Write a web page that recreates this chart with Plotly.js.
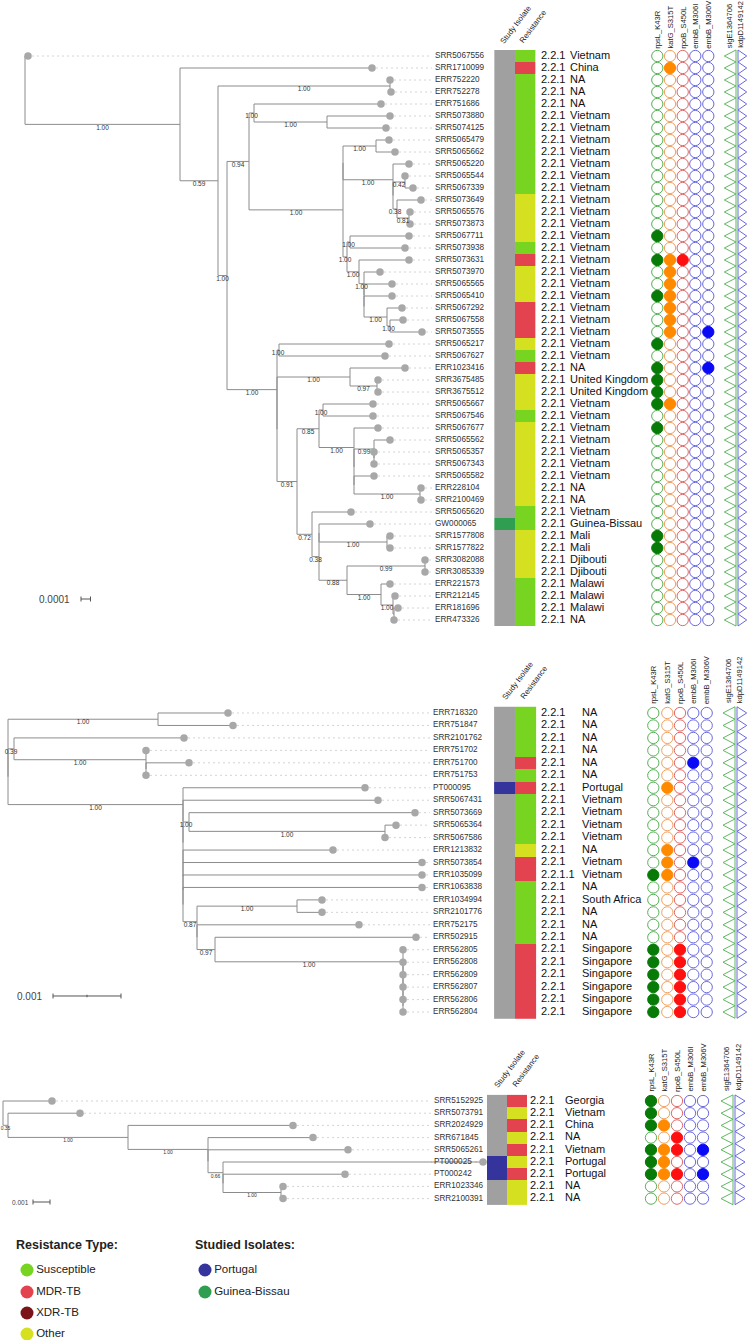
<!DOCTYPE html>
<html><head><meta charset="utf-8">
<script src="https://cdn.plot.ly/plotly-3.0.1.min.js"></script>
<style>html,body{margin:0;padding:0;background:#fff}#chart{width:750px;height:1340px}</style>
</head><body><div id="chart"></div>
<script>
// ================= DATA =================
// Trees (Newick; internal labels = branch support, lengths in tree units)
const tree1 = "(SRR5067556:3,(SRR1710099:192,((ERR752220:0,ERR752278:1)1.00:172,(((ERR751686:127,(SRR5073880:63,SRR5074125:59)1.00:73)1.00:5,(((SRR5065479:13,SRR5065662:19)1.00:33,(SRR5065220:16,((SRR5065544:0,SRR5067339:8)0.42:12,(SRR5073649:24,(SRR5065576:1,SRR5073873:1)0.81:12)0.38:4):0)1.00:50):0,((SRR5067711:59,SRR5073938:55)1.00:3,(SRR5073631:50,(SRR5073970:16,(SRR5065565:28,(SRR5065410:28,(SRR5067292:15,(SRR5067558:13,SRR5073555:32)1.00:3)1.00:23):0):0)1.00:5)1.00:12)1.00:4)1.00:94)0.94:22,((SRR5065217:110,SRR5067627:106)1.00:2,((ERR1023416:55,(SRR3675485:1,SRR3675512:1)0.97:27)1.00:73,(((SRR5065667:50,SRR5067546:50)1.00:4,(SRR5067677:24,((SRR5065562:16,(SRR5065357:0,SRR5067343:0):0)0.99:20,(SRR5065582:20,(ERR228104:1,SRR2100469:1)1.00:66):0):0)1.00:35)0.85:22,(SRR5065620:39,((GW000065:51,(SRR1577808:3,SRR1577822:3)1.00:68):0,((SRR3082088:0,SRR3085339:0)0.99:78,(ERR221573:9,(ERR212145:2,(ERR181696:4,ERR473326:0):1)1.00:12)1.00:34)0.88:28)0.38:7)0.72:15)0.91:20):0)1.00:50)1.00:9)0.59:38)1.00:155);";
const tree2 = "((ERR718320:70,ERR751847:75)1.00:150,((SRR2101762:170,(ERR751702:0,(ERR751700:43,ERR751753:0):0)1.00:132)0.39:6,(PT000095:182,(SRR5067431:195,((SRR5073669:226,(SRR5065364:11,SRR5067586:0)1.00:196)1.00:6,(ERR1213832:150,(SRR5073854:239,(ERR1035099:239,(ERR1063838:239,((ERR1034994:25,SRR2101776:25)1.00:100,(ERR752175:162,(ERR502915:201,(ERR562805:0,(ERR562808:0,(ERR562809:0,(ERR562807:0,(ERR562806:0,ERR562804:0):0):0):0):0)1.00:188)0.97:18):0)0.87:14):0):0):0):0):0):0)1.00:175):0);";
const tree3 = "(SRR5152925:49,(SRR5073791:72,(SRR2024929:165,(SRR671845:105,(SRR5065261:140,(PT000025:260,(PT000242:122,(ERR1023346:2,SRR2100391:2)1.00:58):0)0.66:15):0)1.00:80)1.00:120)0.35:5);";

const scaleLabels = ["0.0001", "0.001", "0.001"];
const scaleLengths = [9.5, 68, 17];

// Panel 1 columns
const p1Res = ["S","M","S","S","S","S","S","S","S","S","S","S","O","O","O","O","S","M","O","O","O","M","M","M","O","S","M","O","O","O","S","O","O","O","O","O","O","O","S","S","O","O","O","O","S","S","S","S"];
const p1Study = ["","","","","","","","","","","","","","","","","","","","","","","","","","","","","","","","","","","","","","","","GW","","","","","","","",""];
const p1Lineage = Array(48).fill("2.2.1");
const p1Country = ["Vietnam","China","NA","NA","NA","Vietnam","Vietnam","Vietnam","Vietnam","Vietnam","Vietnam","Vietnam","Vietnam","Vietnam","Vietnam","Vietnam","Vietnam","Vietnam","Vietnam","Vietnam","Vietnam","Vietnam","Vietnam","Vietnam","Vietnam","Vietnam","NA","United Kingdom","United Kingdom","Vietnam","Vietnam","Vietnam","Vietnam","Vietnam","Vietnam","Vietnam","NA","NA","Vietnam","Guinea-Bissau","Mali","Mali","Djibouti","Djibouti","Malawi","Malawi","Malawi","NA"];
const p1Mut = ["00000","01000","00000","00000","00000","00000","00000","00000","00000","00000","00000","00000","00000","00000","00000","10000","00000","11100","01000","01000","11000","01000","01000","01001","10000","00000","10001","10000","10000","11000","00000","10000","00000","00000","00000","00000","00000","00000","00000","00000","10000","10000","00000","00000","00000","00000","00000","00000"];

// Panel 2 columns
const p2Res = ["S","S","S","S","M","S","M","S","S","S","S","O","M","M","S","S","S","S","S","M","M","M","M","M","M"];
const p2Study = ["","","","","","","PT","","","","","","","","","","","","","","","","","",""];
const p2Lineage = ["2.2.1","2.2.1","2.2.1","2.2.1","2.2.1","2.2.1","2.2.1","2.2.1","2.2.1","2.2.1","2.2.1","2.2.1","2.2.1","2.2.1.1","2.2.1","2.2.1","2.2.1","2.2.1","2.2.1","2.2.1","2.2.1","2.2.1","2.2.1","2.2.1","2.2.1"];
const p2Country = ["NA","NA","NA","NA","NA","NA","Portugal","Vietnam","Vietnam","Vietnam","Vietnam","NA","Vietnam","Vietnam","NA","South Africa","NA","NA","NA","Singapore","Singapore","Singapore","Singapore","Singapore","Singapore"];
const p2Mut = ["00000","00000","00000","00000","00010","00000","01000","00000","00000","00000","00000","01000","01010","11000","00000","00000","00000","00000","00000","10100","10100","10100","10100","10100","10100"];

// Panel 3 columns
const p3Res = ["M","O","M","O","M","O","M","O","O"];
const p3Study = ["","","","","","PT","PT","",""];
const p3Lineage = Array(9).fill("2.2.1");
const p3Country = ["Georgia","Vietnam","China","NA","Vietnam","Portugal","Portugal","NA","NA"];
const p3Mut = ["10000","10000","11000","00100","11101","11000","11101","00000","00000"];

const mutNames = ["rpsL_K43R","katG_S315T","rpoB_S450L","embB_M306I","embB_M306V"];
const markerNames = ["sigE1364706","kdpD1149142"];
const colHeaders = ["Study Isolate","Resistance"];
const resTypes = ["Susceptible","MDR-TB","XDR-TB","Other"];
const resCodes = ["S","M","X","O"];
const studyTypes = ["Portugal","Guinea-Bissau"];
const studyCodes = ["PT","GW"];

// ================= STYLE / LAYOUT =================
const FONT = "Liberation Sans, Arial, Helvetica, sans-serif";
const W = 750, H = 1340;
const resColors = {S:"#77d420", M:"#e2434f", X:"#7b1418", O:"#d5e021"};
const studyColors = {"":"#a0a0a0", PT:"#34349c", GW:"#2f9e50"};
const mutFill = ["#087a08","#ff8a00","#ff1010","#0a0af5","#0a0af5"];
const mutOpen = ["#55b055","#f0a060","#e06868","#6a6ae0","#6a6ae0"];

const panels = [
  {tree:tree1, res:p1Res, study:p1Study, lin:p1Lineage, ctry:p1Country, mut:p1Mut,
   rootX:25, y0:56, step:12, labelX:435, studyX:504.5, resX:524.8, linX:541, ctryX:570,
   mutX:[657.3,670,682.7,695.3,708.3], triL:[724.3,736], triR:[738,746.7], hdrPx:51, colHdrPx:48, colHdrX:[496,515],
   guideEnd:432, supFont:6.5, scaleX:81, scalePx:599, scaleTextX:72, scaleFont:10, midTick:false},
  {tree:tree2, res:p2Res, study:p2Study, lin:p2Lineage, ctry:p2Country, mut:p2Mut,
   rootX:8, y0:713, step:12.46, labelX:433, studyX:504.5, resX:525.3, linX:541, ctryX:582,
   mutX:[653.3,667.3,680,693.3,706.7], triL:[723,735], triR:[737,746.7], hdrPx:706, colHdrPx:704, colHdrX:[498,516],
   guideEnd:430, supFont:6.5, scaleX:53, scalePx:996, scaleTextX:44, scaleFont:10, midTick:true},
  {tree:tree3, res:p3Res, study:p3Study, lin:p3Lineage, ctry:p3Country, mut:p3Mut,
   rootX:3, y0:1101, step:12.2, labelX:434, studyX:497, resX:517, linX:530, ctryX:565,
   mutX:[651,664,677,690,703], triL:[721,733], triR:[735,745], hdrPx:1094, colHdrPx:1092, colHdrX:[490,508],
   guideEnd:431, supFont:5, scaleX:33, scalePx:1202, scaleTextX:31, scaleFont:6.5, midTick:false}
];

// ================= TREE HELPERS =================
function parseNewick(s){
  let i=0;
  function node(){
    const n={children:[],name:"",len:0};
    if(s[i]==="("){
      i++; n.children.push(node());
      while(s[i]===","){ i++; n.children.push(node()); }
      if(s[i]!==")") throw new Error("Newick parse error at "+i);
      i++;
    }
    let nm=""; while(i<s.length && ",():;".indexOf(s[i])<0) nm+=s[i++];
    n.name=nm.trim();
    if(s[i]===":"){ i++; let num=""; while(i<s.length && ",();".indexOf(s[i])<0) num+=s[i++]; n.len=parseFloat(num); }
    return n;
  }
  return node();
}
function placeTree(root, rootX){
  const leaves=[], nodes=[];
  (function walk(n,x,parent){
    n.x=x; n.parent=parent; nodes.push(n);
    if(!n.children.length){ n.y=leaves.length; leaves.push(n); }
    else { n.children.forEach(c=>walk(c, x+c.len, n)); n.y=(n.children[0].y+n.children[n.children.length-1].y)/2; }
  })(root, rootX, null);
  return {leaves, nodes};
}

// ================= BUILD =================
const traces=[], annotations=[], layout={
  width:W, height:H, margin:{l:0,r:0,t:0,b:0}, showlegend:false,
  paper_bgcolor:"#fff", plot_bgcolor:"rgba(0,0,0,0)", font:{family:FONT}
};
const pal = ["#a0a0a0","#34349c","#2f9e50","#77d420","#e2434f","#7b1418","#d5e021"];
const codeOf = {"":0, PT:1, GW:2, S:3, M:4, X:5, O:6};
const cscale=[]; pal.forEach((c,i)=>{ cscale.push([i/pal.length,c]); cscale.push([(i+1)/pal.length,c]); });

panels.forEach((P,pi)=>{
  const k=pi+1, xa = k===1?"x":"x"+k, ya = k===1?"y":"y"+k;
  const tr = placeTree(parseNewick(P.tree), P.rootX);
  const N = tr.leaves.length;
  const rowOf = px => (px-P.y0)/P.step;
  const topPx = P.y0 - P.step*1.0, botPx = P.y0 + P.step*N;
  layout[k===1?"xaxis":"xaxis"+k] = {domain:[0,1], range:[0,W], visible:false, fixedrange:true, anchor:ya};
  layout[k===1?"yaxis":"yaxis"+k] = {domain:[1-botPx/H, 1-topPx/H], range:[N, -1], visible:false, fixedrange:true, anchor:xa};

  traces.push({type:"heatmap", xaxis:xa, yaxis:ya, x:[P.studyX,P.resX], y:tr.leaves.map((l,i)=>i),
    z: tr.leaves.map((l,i)=>[codeOf[P.study[i]], codeOf[P.res[i]]]),
    zmin:-0.5, zmax:6.5, colorscale:cscale, showscale:false, hoverinfo:"skip", xgap:0, ygap:0});

  const bx=[], by=[];
  tr.nodes.forEach(n=>{
    if(n.children.length){
      const f=n.children[0], l=n.children[n.children.length-1];
      bx.push(n.x,n.x,null); by.push(f.y,l.y,null);
      n.children.forEach(c=>{ bx.push(n.x,c.x,null); by.push(c.y,c.y,null); });
    }
  });
  const gx=[], gy=[];
  tr.leaves.forEach(l=>{ gx.push(l.x+4, P.guideEnd, null); gy.push(l.y,l.y,null); });
  traces.push({type:"scatter", mode:"lines", xaxis:xa, yaxis:ya, x:gx, y:gy, line:{color:"#d4d4d4", width:1, dash:"2px,3px"}, hoverinfo:"skip"});
  traces.push({type:"scatter", mode:"lines", xaxis:xa, yaxis:ya, x:bx, y:by, line:{color:"#8c8c8c", width:1}, hoverinfo:"skip"});
  traces.push({type:"scatter", mode:"markers", xaxis:xa, yaxis:ya, x:tr.leaves.map(l=>l.x), y:tr.leaves.map(l=>l.y),
    marker:{color:"#a8a8a8", size:7.5}, hoverinfo:"skip", cliponaxis:false});
  const sl = tr.nodes.filter(n=>n.children.length && n.parent && n.name);
  traces.push({type:"scatter", mode:"text", xaxis:xa, yaxis:ya, x:sl.map(n=>(n.parent.x+n.x)/2), y:sl.map(n=>n.y+3.6/P.step),
    text:sl.map(n=>n.name), textposition:"middle center", textfont:{size:P.supFont, color:"#333", family:FONT}, hoverinfo:"skip", cliponaxis:false});
  traces.push({type:"scatter", mode:"text", xaxis:xa, yaxis:ya, x:tr.leaves.map(()=>P.labelX), y:tr.leaves.map(l=>l.y),
    text:tr.leaves.map(l=>l.name), textposition:"middle right", textfont:{size:8.2, color:"#333", family:FONT}, hoverinfo:"skip", cliponaxis:false});
  traces.push({type:"scatter", mode:"text", xaxis:xa, yaxis:ya, x:P.lin.map(()=>P.linX), y:P.lin.map((v,i)=>i),
    text:P.lin, textposition:"middle right", textfont:{size:11, color:"#111", family:FONT}, hoverinfo:"skip", cliponaxis:false});
  traces.push({type:"scatter", mode:"text", xaxis:xa, yaxis:ya, x:P.ctry.map(()=>P.ctryX), y:P.ctry.map((v,i)=>i),
    text:P.ctry, textposition:"middle right", textfont:{size:11, color:"#111", family:FONT}, hoverinfo:"skip", cliponaxis:false});
  mutNames.forEach((m,j)=>{
    const on = P.mut.map(s=>s[j]==="1");
    traces.push({type:"scatter", mode:"markers", xaxis:xa, yaxis:ya, x:on.map(()=>P.mutX[j]), y:on.map((v,i)=>i),
      marker:{size:11.3, color:on.map(v=>v?mutFill[j]:"#ffffff"), line:{width:1, color:on.map(v=>v?mutFill[j]:mutOpen[j])}},
      hoverinfo:"skip", cliponaxis:false});
    annotations.push({xref:xa, yref:ya, x:P.mutX[j], y:rowOf(P.hdrPx), text:m, textangle:-90, showarrow:false,
      xanchor:"center", yanchor:"bottom", font:{size:7.6, color:"#222", family:FONT}});
  });
  const lx=[], ly=[], rx=[], ry=[];
  tr.leaves.forEach((l,i)=>{
    lx.push(P.triL[1], P.triL[0], P.triL[1], null); ly.push(i-0.5, i, i+0.5, null);
    rx.push(P.triR[0], P.triR[1], P.triR[0], null); ry.push(i-0.5, i, i+0.5, null);
  });
  lx.push(P.triL[1], P.triL[1]); ly.push(-0.5, N-0.5);
  rx.push(P.triR[0], P.triR[0]); ry.push(-0.5, N-0.5);
  traces.push({type:"scatter", mode:"lines", xaxis:xa, yaxis:ya, x:lx, y:ly, line:{color:"#5fb85f", width:1}, hoverinfo:"skip"});
  traces.push({type:"scatter", mode:"lines", xaxis:xa, yaxis:ya, x:rx, y:ry, line:{color:"#6a6ae0", width:1}, hoverinfo:"skip"});
  markerNames.forEach((m,j)=>{
    annotations.push({xref:xa, yref:ya, x:j===0?(P.triL[0]+P.triL[1])/2-1:(P.triR[0]+P.triR[1])/2-2, y:rowOf(P.hdrPx-1), text:m, textangle:-90, showarrow:false,
      xanchor:"center", yanchor:"bottom", font:{size:7.6, color:"#222", family:FONT}});
  });
  colHeaders.forEach((h,j)=>{
    annotations.push({xref:xa, yref:ya, x:P.colHdrX[j], y:rowOf(P.colHdrPx), text:h, textangle:-53, showarrow:false,
      xanchor:"left", yanchor:"bottom", font:{size:7.8, color:"#222", family:FONT}});
  });
  const sr = rowOf(P.scalePx), tk = 2.5/P.step, L = scaleLengths[pi];
  const sx=[P.scaleX, P.scaleX+L, null, P.scaleX, P.scaleX, null, P.scaleX+L, P.scaleX+L];
  const sy=[sr, sr, null, sr-tk, sr+tk, null, sr-tk, sr+tk];
  if(P.midTick){ sx.push(null, P.scaleX+L/2, P.scaleX+L/2); sy.push(null, sr-tk/2, sr+tk/2); }
  traces.push({type:"scatter", mode:"lines", xaxis:xa, yaxis:ya, x:sx, y:sy, line:{color:"#555", width:1}, hoverinfo:"skip"});
  annotations.push({xref:xa, yref:ya, x:P.scaleTextX, y:sr, text:scaleLabels[pi], showarrow:false, xanchor:"right", yanchor:"middle",
    font:{size:P.scaleFont, color:"#444", family:FONT}});
});

// ================= LEGEND =================
layout.xaxis4 = {domain:[0,1], range:[0,W], visible:false, fixedrange:true, anchor:"y4"};
layout.yaxis4 = {domain:[0,125/H], range:[H, H-125], visible:false, fixedrange:true, anchor:"x4"};
const legRows = [1270, 1292, 1313, 1334];
traces.push({type:"scatter", mode:"markers+text", xaxis:"x4", yaxis:"y4",
  x:resTypes.map(()=>27), y:resTypes.map((t,i)=>legRows[i]),
  marker:{size:13, color:resCodes.map(c=>resColors[c])}, text:resTypes, textposition:"middle right",
  textfont:{size:11.5, color:"#222", family:FONT}, hoverinfo:"skip", cliponaxis:false});
traces.push({type:"scatter", mode:"markers+text", xaxis:"x4", yaxis:"y4",
  x:studyTypes.map(()=>205), y:studyTypes.map((t,i)=>legRows[i]),
  marker:{size:13, color:studyCodes.map(c=>studyColors[c])}, text:studyTypes, textposition:"middle right",
  textfont:{size:11.5, color:"#222", family:FONT}, hoverinfo:"skip", cliponaxis:false});
annotations.push({xref:"x4", yref:"y4", x:14, y:1245, text:"<b>Resistance Type:</b>", showarrow:false, xanchor:"left", yanchor:"middle", font:{size:12.5, color:"#222", family:FONT}});
annotations.push({xref:"x4", yref:"y4", x:193, y:1245, text:"<b>Studied Isolates:</b>", showarrow:false, xanchor:"left", yanchor:"middle", font:{size:12.5, color:"#222", family:FONT}});

layout.annotations = annotations;
Plotly.newPlot("chart", traces, layout, {staticPlot:true, displayModeBar:false});
</script>
</body></html>
